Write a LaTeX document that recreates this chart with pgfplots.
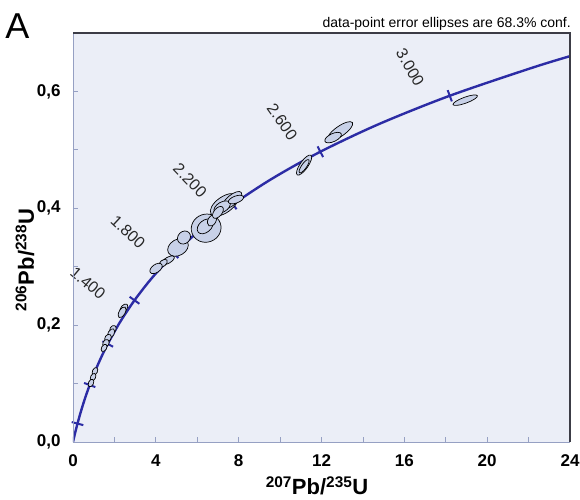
\documentclass[border=0pt]{standalone}
\usepackage{fontspec}
\setmainfont{Liberation Sans}
\usepackage{pgfplots}
\pgfplotsset{compat=1.18}

\definecolor{bgc}{RGB}{235,238,247}
\definecolor{curvec}{RGB}{44,44,165}
\definecolor{ellc}{RGB}{200,209,232}
\definecolor{axc}{RGB}{150,160,195}
\definecolor{framec}{RGB}{60,60,70}
\definecolor{agec}{RGB}{40,40,40}

% error ellipse: semi-axes \elA, \elB (pt), angle \elT (deg)
\pgfdeclareplotmark{errell}{%
  \pgftransformrotate{\elT}%
  \pgfpathellipse{\pgfpointorigin}{\pgfqpoint{\elA pt}{0pt}}{\pgfqpoint{0pt}{\elB pt}}%
  \pgfusepathqfillstroke}
% age tick across the concordia
\pgfdeclareplotmark{agetick}{%
  \pgftransformrotate{\elT}%
  \pgfpathmoveto{\pgfqpoint{0pt}{-6pt}}%
  \pgfpathlineto{\pgfqpoint{0pt}{6pt}}%
  \pgfusepathqstroke}

\begin{document}
\begin{tikzpicture}
\begin{axis}[
    name=ax,
    scale only axis,
    width=497pt, height=409pt,
    xmin=0, xmax=24, ymin=0, ymax=0.7,
    axis line style={draw=none},
    axis background/.style={fill=bgc},
    clip mode=individual,
    xtick={0,4,...,24},
    xticklabels={0,4,8,12,16,20,24},
    minor xtick={2,6,...,22},
    ytick={0,0.2,0.4,0.6},
    yticklabels={{0,0},{0,2},{0,4},{0,6}},
    minor ytick={0.1,0.3,0.5},
    tick pos=left,
    tick align=inside,
    major tick length=5pt, minor tick length=5pt,
    tick style={axc, line width=0.8pt},
    ticklabel style={font=\fontsize{17}{19}\selectfont\bfseries},
    xticklabel style={yshift=-9pt},
    yticklabel style={xshift=-9pt},
    xlabel={\textsuperscript{207}Pb/\textsuperscript{235}U},
    ylabel={\textsuperscript{206}Pb/\textsuperscript{238}U},
    label style={font=\fontsize{22}{24}\selectfont\bfseries},
    xlabel style={at={(axis description cs:0.491,-0.107)}, anchor=center},
    ylabel style={at={(axis description cs:-0.0966,0.445)}, anchor=center},
]
% concordia curve
\addplot[curvec, line width=2.4pt, smooth] coordinates {
    (0,0) (0.024926,0.003886) (0.050475,0.007786) (0.10350,0.015633)
    (0.15919,0.02354) (0.21771,0.031511) (0.34374,0.04764) (0.48281,0.06402)
    (0.63628,0.08065) (0.80563,0.09754) (0.99251,0.11470) (1.19873,0.13213)
    (1.42630,0.14982) (1.67741,0.16781) (2.26030,0.20459) (2.97009,0.24255)
    (3.83441,0.28171) (4.88690,0.32210) (6.16853,0.36376) (7.72917,0.40674)
    (9.62957,0.45107) (11.94372,0.49679) (14.76165,0.54396) (18.19306,0.59261)
    (22.37156,0.64280) (24.790,0.66848)
};
% age ticks every 400 Ma from 200 Ma
\addplot[scatter, only marks, mark=agetick,
    scatter/use mapped color={draw=curvec},
    mark options={line width=2pt},
    visualization depends on={value \thisrow{t} \as \elT},
] table {
x y t
0.21771 0.031511 75.2
0.80563 0.09754 69.8
1.67741 0.16781 62.9
2.97009 0.24255 54.4
4.88690 0.32210 45.0
7.72917 0.40674 35.6
11.94372 0.49679 27.3
18.19306 0.59261 20.3
};
% data-point error ellipses
\addplot[scatter, only marks, mark=errell,
    scatter/use mapped color={draw=black, fill=ellc},
    mark options={line width=0.7pt},
    visualization depends on={value \thisrow{a} \as \elA},
    visualization depends on={value \thisrow{b} \as \elB},
    visualization depends on={value \thisrow{t} \as \elT},
] table {
x y a b t
18.94 0.585 13 3 20
12.90 0.532 15 5 35
12.56 0.521 9 4 25
11.16 0.474 12 4 55
11.16 0.472 8 2.5 55
6.43 0.366 15 14 20
6.38 0.369 9 6 40
6.71 0.379 6 4 60
7.30 0.406 16 8 35
7.68 0.414 12 5 40
7.20 0.402 9 5 30
7.87 0.415 8 3.5 20
7.00 0.393 7 4 50
5.07 0.333 11 8 30
5.36 0.350 7 6 45
4.59 0.311 7 3 30
4.35 0.306 5 3 40
4.01 0.297 7 4 35
2.46 0.229 5 3 50
2.37 0.222 6 3 60
1.93 0.193 4 3 60
1.84 0.186 5 3 60
1.69 0.178 4 3 55
1.59 0.169 4 3 60
1.50 0.161 4 2.5 60
1.06 0.121 4 2.5 65
0.97 0.111 4 2.5 65
0.87 0.101 4 2.5 65
};
% age labels (Ma)
\begin{scope}[font=\fontsize{16}{18}\selectfont, text=agec]
\node[rotate=-40] at (axis cs:0.72,0.272) {1.400};
\node[rotate=-43] at (axis cs:2.66,0.359) {1.800};
\node[rotate=-46] at (axis cs:5.65,0.448) {2.200};
\node[rotate=-55] at (axis cs:10.10,0.548) {2.600};
\node[rotate=-60] at (axis cs:16.28,0.641) {3.000};
\end{scope}
\end{axis}
\draw[axc, line width=1pt] (ax.north west) -- (ax.south west) -- (ax.south east);
\draw[framec, line width=1.6pt] (ax.north west) -- (ax.north east) -- (ax.south east);
\node[anchor=center, font=\fontsize{36}{38}\selectfont] at ([xshift=-55.5pt, yshift=416pt]ax.south west) {A};
\node[anchor=base east, inner sep=0pt, font=\fontsize{14}{16}\selectfont]
    at ([xshift=498pt, yshift=414.5pt]ax.south west) {data-point error ellipses are 68.3\% conf.};
\pgfresetboundingbox
\path ([xshift=-73pt, yshift=-57pt]ax.south west) rectangle ++(580pt,499pt);
\end{tikzpicture}
\end{document}
